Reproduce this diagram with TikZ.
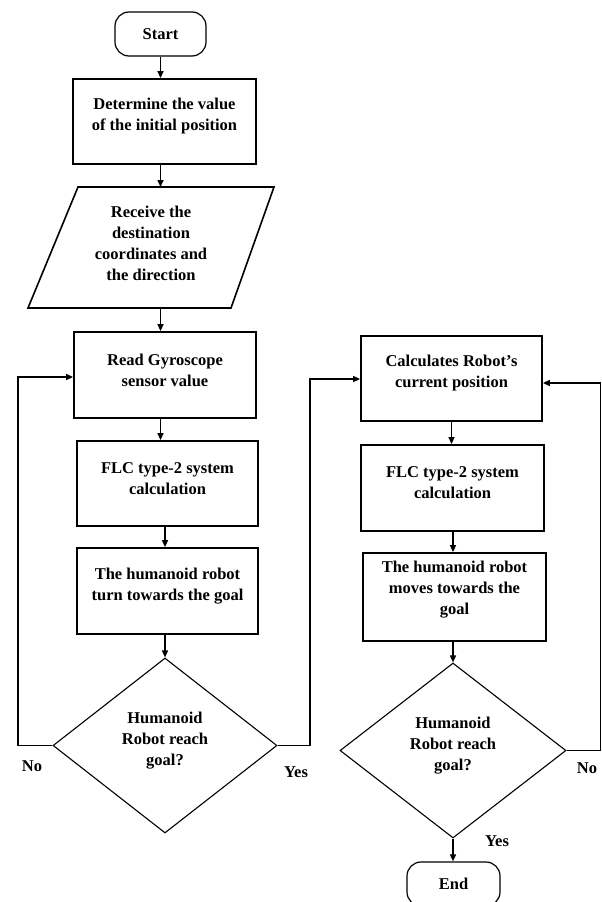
\documentclass[tikz,border=0pt]{standalone}
\usepackage{fontspec}
\setmainfont{Liberation Serif}
\usetikzlibrary{shapes.geometric,arrows.meta,calc}
\begin{document}
\begin{tikzpicture}[x=1pt,y=-1pt,
  font=\fontsize{16.5}{21}\selectfont\bfseries,
  box/.style={draw,line width=1.8pt,rectangle,inner sep=0pt},
  term/.style={draw,line width=1.2pt,rectangle,rounded corners=14pt,inner sep=0pt,minimum width=91pt,minimum height=44pt},
  dec/.style={draw,line width=1.1pt,diamond,inner sep=0pt,minimum width=224pt,minimum height=175pt},
  lbl/.style={align=center,yshift=5pt,inner sep=0pt},
  arr/.style={line width=1.5pt,-{Triangle[length=7pt,width=6pt]}},
  ln/.style={line width=1.8pt},
  tag/.style={inner sep=0pt}]
\useasboundingbox (0,0) rectangle (602,902);
\clip (0,0) rectangle (602,902);

% left column
\node[term] (start) at (160.5,34) {Start};
\node[box,minimum width=183pt,minimum height=85pt,label={[lbl]center:{Determine the value\\of the initial position}}] (det) at (164.5,121.5) {};
\coordinate (pTL) at (78,187);
\coordinate (pTR) at (274,187);
\coordinate (pBR) at (231,308);
\coordinate (pBL) at (28,308);
\draw[line width=1.6pt] (pTL) -- (pTR) -- (pBR) -- (pBL) -- cycle;
\node[align=center,inner sep=0pt] (para) at (151,243.5) {Receive the\\destination\\coordinates and\\the direction};
\node[box,minimum width=182pt,minimum height=86pt,label={[lbl]center:{Read Gyroscope\\sensor value}}] (read) at (165,375) {};
\node[box,minimum width=181pt,minimum height=85pt,label={[lbl]center:{FLC type-2 system\\calculation}}] (flcA) at (167.5,483.5) {};
\node[box,minimum width=181pt,minimum height=86pt,label={[lbl]center:{The humanoid robot\\turn towards the goal}}] (turn) at (167.5,591) {};
\node[dec,label={[lbl,yshift=-0.5pt]center:{Humanoid\\Robot reach\\goal?}}] (decA) at (165,745.5) {};

% right column
\node[box,minimum width=181pt,minimum height=85pt,label={[lbl]center:{Calculates Robot’s\\current position}}] (calc) at (451.5,378.5) {};
\node[box,minimum width=183pt,minimum height=86pt,label={[lbl]center:{FLC type-2 system\\calculation}}] (flcB) at (452.5,488) {};
\node[box,minimum width=183pt,minimum height=88pt,label={[lbl,yshift=2pt]center:{The humanoid robot\\moves towards the\\goal}}] (moves) at (454.5,597) {};
\node[dec,minimum width=226pt,label={[lbl,yshift=-0.5pt]center:{Humanoid\\Robot reach\\goal?}}] (decB) at (453,750.5) {};
\node[term,minimum width=93pt] (end) at (453.5,884) {End};

% connectors
\draw[arr] (start.south) -- (start.south |- det.north);
\draw[arr] (start.south |- det.south) -- (start.south |- pTL);
\draw[arr] (start.south |- pBL) -- (start.south |- read.north);
\draw[arr] (start.south |- read.south) -- (start.south |- flcA.north);
\draw[arr] (decA.north |- flcA.south) -- (decA.north |- turn.north);
\draw[arr] (decA.north |- turn.south) -- (decA.north);

\draw[arr] (calc.south) -- (calc.south |- flcB.north);
\draw[arr] (decB.north |- flcB.south) -- (decB.north |- moves.north);
\draw[arr] (decB.north |- moves.south) -- (decB.north);
\draw[arr] (decB.south) -- (decB.south |- end.north);

\coordinate (noA) at (18,745.5);
\coordinate (yesA) at (310,745.5);
\coordinate (noB) at (600.5,750.5);
\draw[ln] (decA.west) -- (noA);
\draw[arr] (noA) |- ([yshift=-2pt]read.west);
\draw[ln] (decA.east) -- (yesA);
\draw[arr] (yesA) |- ([yshift=-0.5pt]calc.west);
\draw[ln] (decB.east) -- (noB);
\draw[arr] (noB) |- ([yshift=-4.5pt]calc.east);

% branch labels
\node[tag] (tNoA) at (32,766) {No};
\node[tag] (tYesA) at (296,772) {Yes};
\node[tag] (tNoB) at (587,768) {No};
\node[tag] (tYesB) at (497,841) {Yes};
\end{tikzpicture}
\end{document}
